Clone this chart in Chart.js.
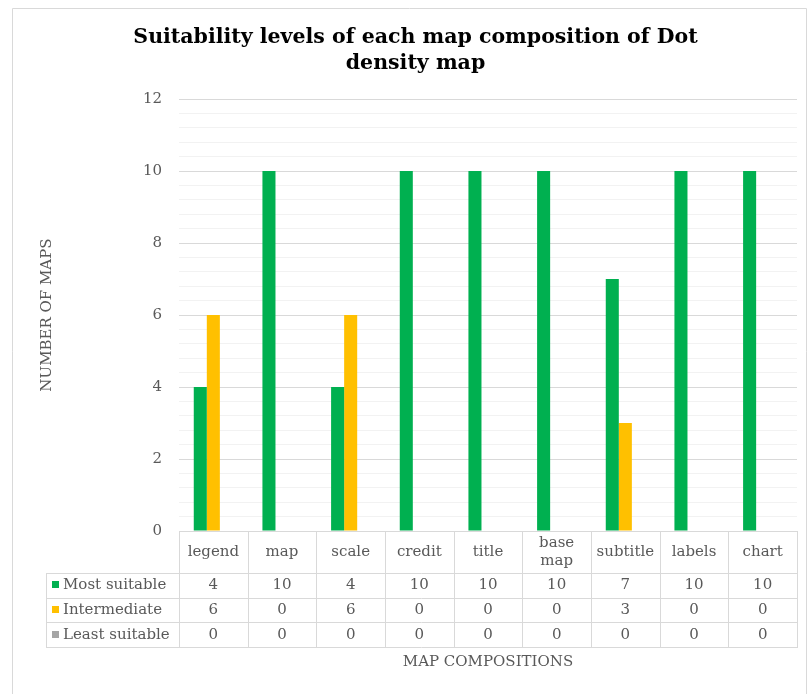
<!DOCTYPE html>
<html>
<head>
<meta charset="utf-8">
<script src="https://cdn.jsdelivr.net/npm/chart.js@4.4.0/dist/chart.umd.min.js"></script>
<style>
  html, body { margin: 0; padding: 0; background: #fff; }
  #wrap { width: 807px; height: 694px; position: relative; }
</style>
</head>
<body>
<div id="wrap"><canvas id="c" width="807" height="694"></canvas></div>
<script>
const categories = ["legend", "map", "scale", "credit", "title", "base map", "subtitle", "labels", "chart"];
const mostSuitable = [4, 10, 4, 10, 10, 10, 7, 10, 10];
const intermediate = [6, 0, 6, 0, 0, 0, 3, 0, 0];
const leastSuitable = [0, 0, 0, 0, 0, 0, 0, 0, 0];
const seriesNames = ["Most suitable", "Intermediate", "Least suitable"];
const seriesColors = ["#00B050", "#FFC000", "#A5A5A5"];
const titleLines = ["Suitability levels of each map composition of Dot", "density map"];
const yTitle = "NUMBER OF MAPS";
const xTitle = "MAP COMPOSITIONS";

const TEXT = "#595959";
const LINE = "#D9D9D9";
const FONT = "'DejaVu Serif', serif";

function isMajor(v) {
  const r = Math.round(v);
  return Math.abs(v - r) < 1e-6 && r % 2 === 0;
}

const tablePlugin = {
  id: "dataTable",
  beforeDraw(chart) {
    const ctx = chart.ctx;
    ctx.save();
    ctx.strokeStyle = LINE;
    ctx.lineWidth = 1;
    ctx.beginPath();
    ctx.moveTo(12.5, 700);
    ctx.lineTo(12.5, 8.5);
    ctx.lineTo(806.5, 8.5);
    ctx.lineTo(806.5, 700);
    ctx.stroke();
    ctx.restore();
  },
  afterDraw(chart) {
    const ctx = chart.ctx;
    const xs = chart.scales.x;
    const ca = chart.chartArea;
    const n = categories.length;
    const left = xs.left, right = xs.right;
    const colW = (right - left) / n;
    const top = ca.bottom;
    const headH = 42;
    const rowH = 24.7;
    const labelLeft = 46;
    const rowsTop = top + headH;
    const bottom = rowsTop + rowH * 3;
    const datasets = [mostSuitable, intermediate, leastSuitable];

    ctx.save();
    ctx.strokeStyle = LINE;
    ctx.lineWidth = 1;
    ctx.beginPath();
    ctx.moveTo(left, Math.round(top) + 0.5);
    ctx.lineTo(right, Math.round(top) + 0.5);
    for (let r = 0; r <= 3; r++) {
      const y = Math.round(rowsTop + r * rowH) + 0.5;
      ctx.moveTo(labelLeft, y);
      ctx.lineTo(right, y);
    }
    for (let i = 0; i <= n; i++) {
      const x = Math.round(left + i * colW) + 0.5;
      ctx.moveTo(x, Math.round(top));
      ctx.lineTo(x, Math.round(bottom) + 1);
    }
    ctx.moveTo(labelLeft + 0.5, Math.round(rowsTop));
    ctx.lineTo(labelLeft + 0.5, Math.round(bottom) + 1);
    ctx.stroke();

    ctx.fillStyle = TEXT;
    ctx.font = "15px " + FONT;
    ctx.textAlign = "center";
    ctx.textBaseline = "middle";
    categories.forEach((c, i) => {
      const cx = left + (i + 0.5) * colW;
      const cy = top + headH / 2;
      if (ctx.measureText(c).width > colW - 6 && c.indexOf(" ") > 0) {
        const parts = c.split(" ");
        ctx.fillText(parts[0], cx, cy - 9);
        ctx.fillText(parts.slice(1).join(" "), cx, cy + 9);
      } else {
        ctx.fillText(c, cx, cy);
      }
    });
    datasets.forEach((arr, r) => {
      const cy = rowsTop + (r + 0.5) * rowH;
      arr.forEach((v, i) => {
        ctx.fillText(String(v), left + (i + 0.5) * colW, cy);
      });
      ctx.fillStyle = seriesColors[r];
      ctx.fillRect(52, Math.round(cy - 4), 7, 7);
      ctx.fillStyle = TEXT;
      ctx.textAlign = "left";
      ctx.fillText(seriesNames[r], 63, cy);
      ctx.textAlign = "center";
    });
    ctx.restore();
  }
};

new Chart(document.getElementById("c"), {
  type: "bar",
  data: {
    labels: categories,
    datasets: [
      { label: seriesNames[0], data: mostSuitable, backgroundColor: seriesColors[0] },
      { label: seriesNames[1], data: intermediate, backgroundColor: seriesColors[1] },
      { label: seriesNames[2], data: leastSuitable, backgroundColor: seriesColors[2] }
    ]
  },
  options: {
    responsive: false,
    animation: false,
    devicePixelRatio: 1,
    layout: { padding: { left: 34, right: 10, top: 0, bottom: 19 } },
    datasets: { bar: { barPercentage: 1, categoryPercentage: 0.57, borderWidth: 0 } },
    plugins: {
      legend: { display: false },
      tooltip: { enabled: false },
      title: {
        display: true,
        text: titleLines,
        color: "#000",
        font: { family: FONT, size: 20.5, weight: "bold", lineHeight: 1.27 },
        padding: { top: 25, bottom: 22 }
      }
    },
    scales: {
      x: {
        type: "category",
        grid: { display: false, drawTicks: false },
        border: { display: false },
        ticks: { display: false },
        title: {
          display: true, text: xTitle, color: TEXT,
          font: { family: FONT, size: 15, lineHeight: 1.2 },
          padding: 4
        },
        afterFit(scale) { scale.height = 144; }
      },
      y: {
        min: 0, max: 12,
        border: { display: false },
        grid: {
          drawTicks: false,
          color: ctx => isMajor(ctx.tick.value) ? "#D9D9D9" : "#F2F2F2",
          lineWidth: 1
        },
        ticks: {
          stepSize: 0.4,
          maxTicksLimit: 100,
          autoSkip: false,
          padding: 17,
          color: TEXT,
          font: { family: FONT, size: 15 },
          callback: v => isMajor(v) ? String(Math.round(v)) : ""
        },
        title: {
          display: true, text: yTitle, color: TEXT,
          font: { family: FONT, size: 15, lineHeight: 1.2 },
          padding: 4
        },
        afterFit(scale) { scale.width = 145; }
      }
    }
  },
  plugins: [tablePlugin]
});
</script>
</body>
</html>
